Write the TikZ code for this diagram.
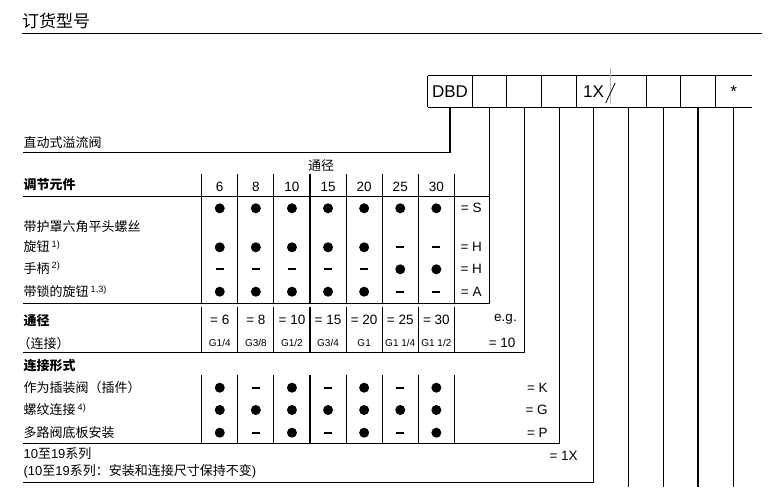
\documentclass[tikz,border=0pt]{standalone}
\usepackage{fontspec}
\setmainfont{Liberation Sans}
\newfontfamily\cjk{Noto Sans CJK SC}
\usepackage{tikz}
\usetikzlibrary{positioning}

\tikzset{
  cbox/.style={minimum height=30.4pt, inner sep=0pt, font=\fontsize{17}{17}\selectfont},
  lbl/.style={anchor=west, inner sep=0pt, font=\cjk\fontsize{13}{13}\selectfont},
  hdr/.style={anchor=west, inner sep=0pt, font=\cjk\bfseries\fontsize{13}{13}\selectfont},
  num/.style={inner sep=0pt, font=\fontsize{13.5}{13.5}\selectfont},
  gval/.style={inner sep=0pt, font=\fontsize{10}{10}\selectfont},
  ok/.style={circle, fill=black, inner sep=0pt, minimum size=10pt},
  na/.style={fill=black, inner sep=0pt, minimum width=8pt, minimum height=2pt}
}

\begin{document}
\begin{tikzpicture}[x=1pt, y=-1pt, line width=1.1pt]
          \useasboundingbox (0,0) rectangle (784,487);

          \node[anchor=west, inner sep=0pt, font=\cjk\fontsize{17}{17}\selectfont] (title) at (21.5,21) {订货型号};
          \draw (21.7,33.3) -- (762.3,33.3); % Draws the rule

          % ordering code boxes
          \node[cbox, minimum width=43.4pt] (dbd) at (450,91.5) {DBD};
          \node[cbox, minimum width=33.3pt, right=0pt of dbd] (c2) {};
          \node[cbox, minimum width=34pt, right=0pt of c2] (c3) {};
          \node[cbox, minimum width=33.7pt, right=0pt of c3] (c4) {};
          \node[cbox, minimum width=33pt, right=0pt of c4] (c5a) {1X};
          \node[cbox, minimum width=35pt, right=0pt of c5a] (c5b) {};
          \node[cbox, minimum width=32.6pt, right=0pt of c5b] (c6) {};
          \node[cbox, minimum width=34pt, right=0pt of c6] (c7) {};
          \node[cbox, minimum width=35pt, right=0pt of c7] (c8) {*};

          \draw (dbd.north west) -- (c8.north east);
          \draw (dbd.south west) -- (c8.south east);
          \foreach \b in {dbd,c2,c3,c4,c5a,c6,c7,c8}
            \draw (\b.north west) -- (\b.south west);
          \draw [gray!55, line width=1.3pt] ([yshift=8pt]c5b.north west) -- ([yshift=3pt]c5b.south west);
          \draw [line width=0.8pt] ([xshift=-5pt,yshift=-11.5pt]c5a.east) -- ([xshift=4.5pt,yshift=8.5pt]c5a.east); % Draws the slash

          % lines down from the boxes
          \coordinate (t1) at (23,152.7);
          \coordinate (t2) at (23,303.5);
          \coordinate (t3) at (23,352.7);
          \coordinate (t4) at (23,443.3);
          \coordinate (t5) at (23,482.7);
          \coordinate (t6) at (23,196.7);
          \coordinate (bot) at (0,487);
          \draw (dbd.south) |- (t1);
          \draw (c2.south) |- (t2);
          \draw (c3.south) |- (t3);
          \draw (c4.south) |- (t4);
          \draw (c5a.south) |- (t5);
          \draw (t6) -- (t6 -| c2.south);
          \foreach \b in {c5b,c6,c7,c8}
            \draw (\b.south) -- (\b.south |- bot);

          % column dividers
          \foreach \k [evaluate=\k as \cx using 201.7+36.1*\k] in {0,...,7}{
            \draw (\cx,174) -- (\cx,303.5);
            \draw (\cx,306.7) -- (\cx,352.7);
            \draw (\cx,375) -- (\cx,443.3);
          }

          % adjustment
          \node[lbl] (kind) at (23,143) {直动式溢流阀};
          \node[lbl, anchor=center] (dnh) at (321,166) {通径};
          \node[hdr] (adj) at (23,185) {调节元件};
          \foreach \d [count=\i] in {6,8,10,15,20,25,30}
            \node[num] (d\i) at ({183.65+36.1*\i},186.7) {\d};
          \node[lbl] (lS) at (23,226.7) {带护罩六角平头螺丝};
          \node[lbl] (lH1) at (23,246.7) {旋钮{\rmfamily\,\textsuperscript{1)}}};
          \node[lbl] (lH2) at (23,268.3) {手柄{\rmfamily\,\textsuperscript{2)}}};
          \node[lbl] (lA) at (23,291.7) {带锁的旋钮{\rmfamily\,\textsuperscript{1,3)}}};
          \foreach \m [count=\i] in {ok,ok,ok,ok,ok,ok,ok}
            \node[\m] (s\i) at ({183.65+36.1*\i},208.3) {};
          \foreach \m [count=\i] in {ok,ok,ok,ok,ok,na,na}
            \node[\m] (h\i) at ({183.65+36.1*\i},247.3) {};
          \foreach \m [count=\i] in {na,na,na,na,na,ok,ok}
            \node[\m] (m\i) at ({183.65+36.1*\i},269.3) {};
          \foreach \m [count=\i] in {ok,ok,ok,ok,ok,na,na}
            \node[\m] (a\i) at ({183.65+36.1*\i},291.7) {};
          \node[num] (eS) at (471.3,208.3) {= S};
          \node[num] (eH1) at (471.3,247.3) {= H};
          \node[num] (eH2) at (471.3,269.3) {= H};
          \node[num] (eA) at (471.3,291.7) {= A};

          % nominal size
          \node[hdr] (dn) at (23,320.7) {通径};
          \node[lbl] (conn) at (17,343.3) {（连接）};
          \foreach \v [count=\i] in {6,8,10,15,20,25,30}
            \node[num] (e\i) at ({183.65+36.1*\i},320) {= \v};
          \foreach \g [count=\i] in {G1/4,G3/8,G1/2,G3/4,G1,G1 1/4,G1 1/2}
            \node[gval] (g\i) at ({183.65+36.1*\i},343.3) {\g};
          \node[num, anchor=east] (eg) at (517.3,319) {e.g.};
          \node[num, anchor=east] (e10) at (516,343) {= 10};

          % connection type
          \node[hdr] (form) at (23,366) {连接形式};
          \node[lbl] (lK) at (23,387.7) {作为插装阀（插件）};
          \node[lbl] (lG) at (23,410) {螺纹连接{\rmfamily\,\textsuperscript{4)}}};
          \node[lbl] (lP) at (23,432.7) {多路阀底板安装};
          \foreach \m [count=\i] in {ok,na,ok,na,ok,na,ok}
            \node[\m] (k\i) at ({183.65+36.1*\i},387.7) {};
          \foreach \m [count=\i] in {ok,ok,ok,ok,ok,ok,ok}
            \node[\m] (gg\i) at ({183.65+36.1*\i},410) {};
          \foreach \m [count=\i] in {ok,na,ok,na,ok,na,ok}
            \node[\m] (p\i) at ({183.65+36.1*\i},432.7) {};
          \node[num, anchor=east] (eK) at (548.3,387.7) {= K};
          \node[num, anchor=east] (eG) at (548.3,410) {= G};
          \node[num, anchor=east] (eP) at (548.3,432.7) {= P};

          % series
          \node[lbl] (ser) at (23,454) {{\rmfamily 10}至{\rmfamily 19}系列};
          \node[lbl] (ser2) at (23,471.7) {{\rmfamily (10}至{\rmfamily 19}系列：安装和连接尺寸保持不变{\rmfamily )}};
          \node[num, anchor=east] (e1x) at (578.3,456) {= 1X};
        \end{tikzpicture}
\end{document}
